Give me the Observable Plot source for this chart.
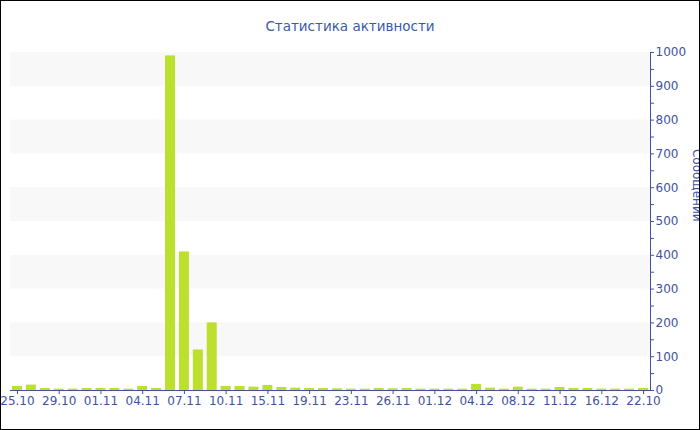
<!DOCTYPE html>
<html>
<head>
<meta charset="utf-8">
<script src="https://cdn.jsdelivr.net/npm/d3@7"></script>
<script src="https://cdn.jsdelivr.net/npm/@observablehq/plot@0.6"></script>
<style>
  html, body { margin: 0; padding: 0; background: #fff; }
  #box { width: 700px; height: 430px; box-sizing: border-box; border: 1px solid #000; overflow: hidden; background: #fff; }
  #title { height: 40px; line-height: 50px; text-align: center; font-family: "DejaVu Sans", sans-serif; font-size: 13.5px; color: #3b5aa6; }
  #chart svg { display: block; }
</style>
</head>
<body>
<div id="box">
  <div id="title">Статистика активности</div>
  <div id="chart"></div>
</div>
<script>
const title = "Статистика активности";
const yLabel = "Сообщений";
const dates = ["25.10","26.10","27.10","29.10","30.10","31.10","01.11","02.11","03.11","04.11","05.11","06.11",
  "07.11","08.11","09.11","10.11","12.11","13.11","15.11","16.11","17.11","19.11","20.11","21.11",
  "23.11","24.11","25.11","26.11","28.11","29.11","01.12","02.12","03.12","04.12","05.12","06.12",
  "08.12","09.12","10.12","11.12","13.12","14.12","16.12","18.12","20.12","22.10"];
const counts = [12,16,6,4,4,6,6,6,4,12,6,990,410,120,200,12,12,10,15,9,7,6,6,5,4,4,6,5,6,4,4,4,4,18,7,4,10,4,4,9,6,6,4,4,4,6];
const tickDates = ["25.10","29.10","01.11","04.11","07.11","10.11","15.11","19.11","23.11","26.11","01.12","04.12","08.12","11.12","16.12","22.10"];
const yTicks = [0,100,200,300,400,500,600,700,800,900,1000];

const rows = dates.map((d, i) => ({date: d, count: counts[i]}));
const bands = yTicks.filter(v => v % 200 === 100).map(v => ({y1: v, y2: v + 100}));
const minorTicks = d3.range(0, 1001, 50);

const blue = "#3d539f";
const plot = Plot.plot({
  width: 698,
  height: 388,
  marginLeft: 9,
  marginRight: 49,
  marginTop: 11,
  marginBottom: 39,
  style: {fontFamily: "DejaVu Sans, sans-serif", fontSize: "12px", color: blue, background: "#fff", overflow: "visible"},
  x: {type: "band", domain: dates, padding: 0.28, paddingOuter: 0.14},
  y: {domain: [0, 1000]},
  marks: [
    Plot.rectY(bands, {y1: "y1", y2: "y2", fill: "#f8f8f8"}),
    Plot.barY(rows, {x: "date", y: "count", fill: "#bde02e"}),
    Plot.ruleY([0], {stroke: blue}),
    Plot.frame({anchor: "right", stroke: blue}),
    Plot.axisX({ticks: tickDates, tickSize: 4, tickPadding: 2, label: null, stroke: blue}),
    Plot.axisY({anchor: "right", ticks: minorTicks, tickSize: 3, tickPadding: 2, label: null,
      tickFormat: d => d % 100 === 0 ? String(d) : ""}),
    Plot.text([yLabel], {frameAnchor: "right", rotate: 90, dx: 46, fill: blue, fontSize: 12})
  ]
});
document.getElementById("chart").appendChild(plot);
</script>
</body>
</html>
